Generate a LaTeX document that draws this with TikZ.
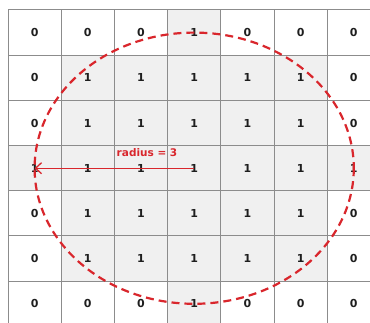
\documentclass[tikz,border=0pt]{standalone}
\usepackage{fontspec}
\setmainfont{DejaVu Sans}
\usetikzlibrary{arrows.meta}
\definecolor{cell0}{HTML}{FFFFFF}
\definecolor{cell1}{HTML}{F0F0F0}
\definecolor{gridgray}{HTML}{8C8C8C}
\definecolor{digitcol}{HTML}{1E1E1E}
\definecolor{rred}{HTML}{D9262C}
\tikzset{
  cellbox/.style={draw=gridgray, line width=1pt, minimum width=53.2pt, minimum height=45.2pt,
    inner sep=0pt, text=digitcol, font=\bfseries\fontsize{11}{13}\selectfont},
  circ/.style={draw=rred, line width=2.2pt, dash pattern=on 8pt off 5pt},
  radarrow/.style={draw=rred, line width=1.3pt, -{Straight Barb[length=6pt,width=11pt]}},
  radlabel/.style={text=rred, font=\bfseries\fontsize{10.5}{12}\selectfont, inner sep=1pt}
}
\begin{document}
\begin{tikzpicture}[x=1pt,y=-1pt]
\useasboundingbox (0,0) rectangle (370,323);
\clip (0,0) rectangle (370,323);
\fill[white] (0,0) rectangle (370,323);
\foreach \row [count=\r from 0] in {{0,0,0,1,0,0,0},{0,1,1,1,1,1,0},{0,1,1,1,1,1,0},{1,1,1,1,1,1,1},{0,1,1,1,1,1,0},{0,1,1,1,1,1,0},{0,0,0,1,0,0,0}} {
  \foreach \v [count=\c from 0] in \row {
    \node[cellbox, fill=cell\v] (c-\r-\c) at ({8+53.2*\c+26.6},{10+45.2*\r+22.6}) {\v};
  }
}
\draw[circ] (c-3-3.center) ellipse [x radius=159.6, y radius=135.6];
\draw[radarrow] (c-3-3.center) -- (c-3-0.center);
\node[radlabel] (lbl) at (147,153) {radius = 3};
\end{tikzpicture}
\end{document}
